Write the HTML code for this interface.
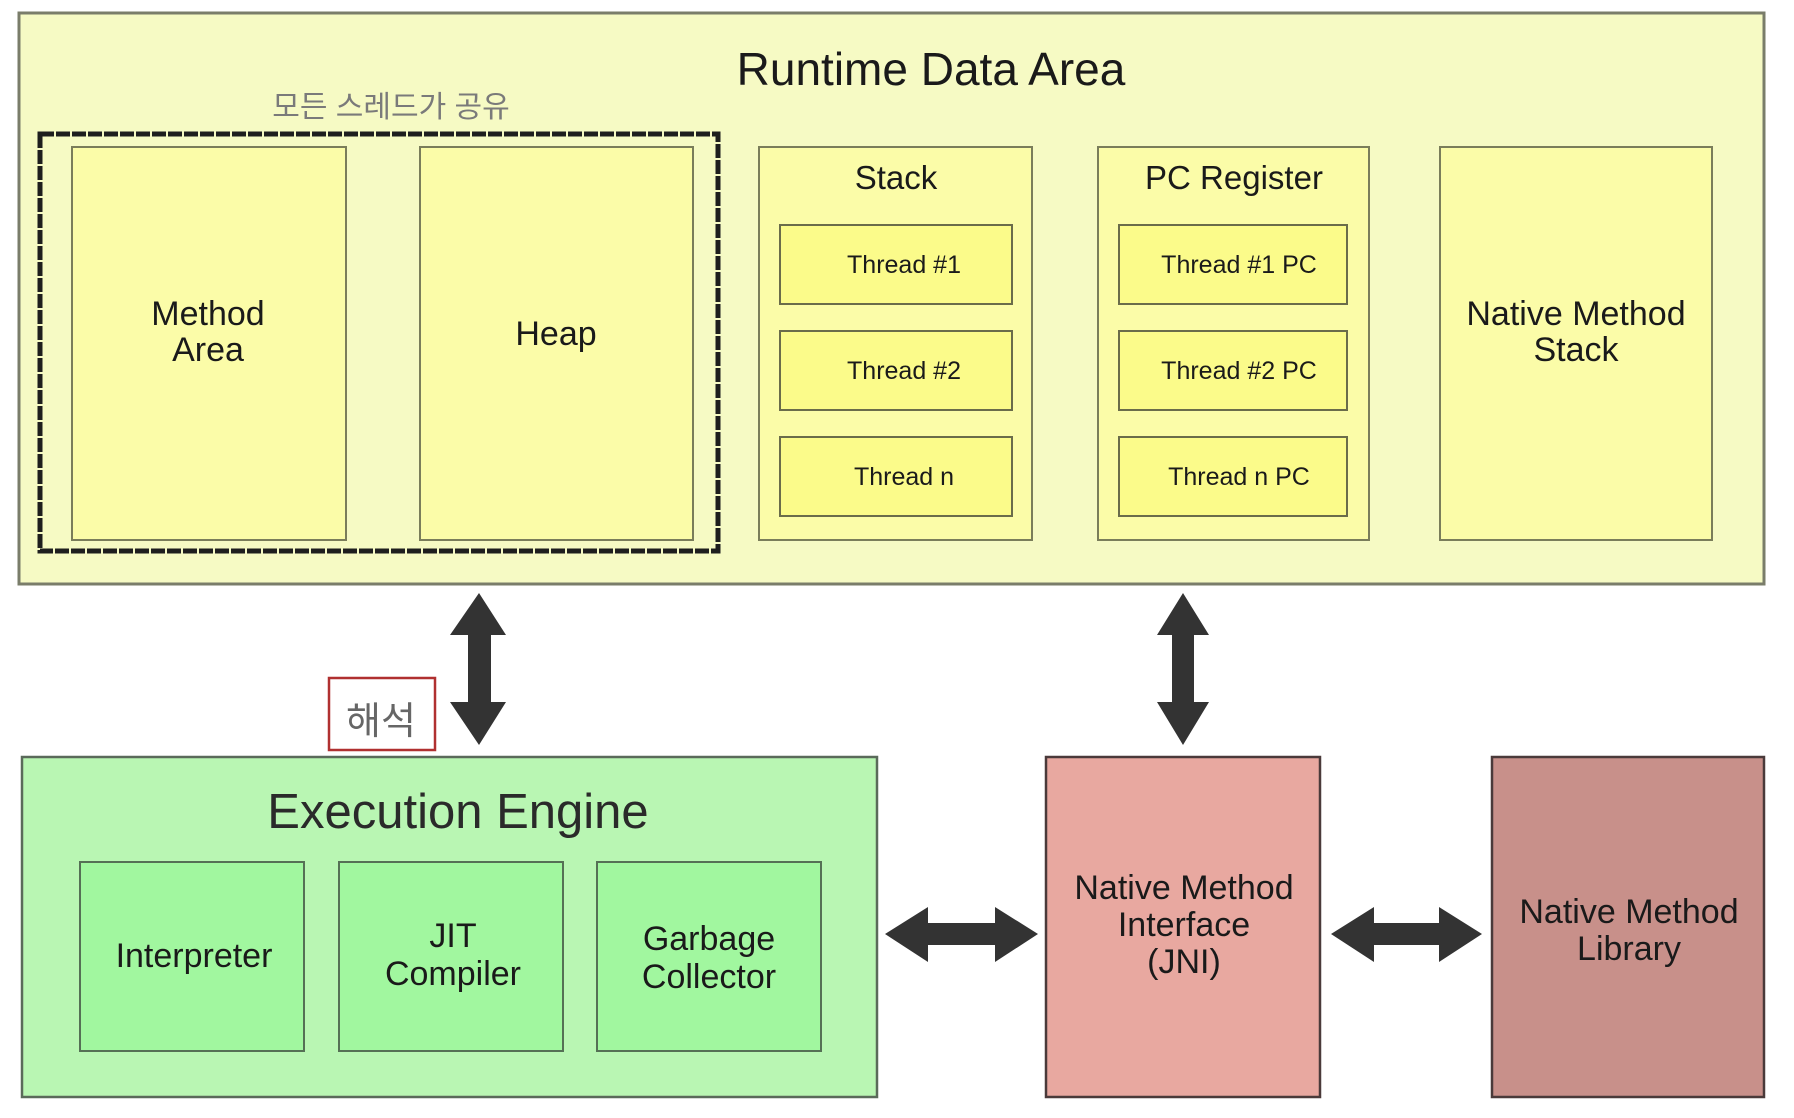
<!DOCTYPE html>
<html><head><meta charset="utf-8"><style>
html,body{margin:0;padding:0;background:#fff;}
svg{display:block;}
text{font-family:"Liberation Sans","Noto Sans CJK KR",sans-serif;text-anchor:middle;fill:#1a1a1a;}
</style></head><body>
<svg width="1794" height="1118" viewBox="0 0 1794 1118" xmlns="http://www.w3.org/2000/svg">
<rect x="0" y="0" width="1794" height="1118" fill="#fff"/>
<!-- Runtime Data Area -->
<rect x="19" y="13" width="1745" height="571" fill="#f6fac4" stroke="#7a7d6a" stroke-width="3"/>
<text x="931" y="85" font-size="46">Runtime Data Area</text>
<text x="391" y="117" font-size="30" style="fill:#7a7a7a">모든 스레드가 공유</text>
<rect x="40" y="134" width="678" height="417" fill="none" stroke="#1e1e1e" stroke-width="5" stroke-dasharray="14 2"/>
<rect x="72" y="147" width="274" height="393" fill="#fbfca8" stroke="#7a7d5a" stroke-width="2"/>
<text x="208" y="325" font-size="34">Method</text>
<text x="208" y="361" font-size="34">Area</text>
<rect x="420" y="147" width="273" height="393" fill="#fbfca8" stroke="#7a7d5a" stroke-width="2"/>
<text x="556" y="345" font-size="34">Heap</text>

<rect x="759" y="147" width="273" height="393" fill="#fbfca8" stroke="#7a7d5a" stroke-width="2"/>
<text x="896" y="189" font-size="33">Stack</text>
<rect x="780" y="225" width="232" height="79" fill="#fbfb8a" stroke="#6a6c4a" stroke-width="2"/>
<rect x="780" y="331" width="232" height="79" fill="#fbfb8a" stroke="#6a6c4a" stroke-width="2"/>
<rect x="780" y="437" width="232" height="79" fill="#fbfb8a" stroke="#6a6c4a" stroke-width="2"/>
<text x="904" y="273" font-size="25">Thread #1</text>
<text x="904" y="379" font-size="25">Thread #2</text>
<text x="904" y="485" font-size="25">Thread n</text>

<rect x="1098" y="147" width="271" height="393" fill="#fbfca8" stroke="#7a7d5a" stroke-width="2"/>
<text x="1234" y="189" font-size="33">PC Register</text>
<rect x="1119" y="225" width="228" height="79" fill="#fbfb8a" stroke="#6a6c4a" stroke-width="2"/>
<rect x="1119" y="331" width="228" height="79" fill="#fbfb8a" stroke="#6a6c4a" stroke-width="2"/>
<rect x="1119" y="437" width="228" height="79" fill="#fbfb8a" stroke="#6a6c4a" stroke-width="2"/>
<text x="1239" y="273" font-size="25">Thread #1 PC</text>
<text x="1239" y="379" font-size="25">Thread #2 PC</text>
<text x="1239" y="485" font-size="25">Thread n PC</text>

<rect x="1440" y="147" width="272" height="393" fill="#fbfca8" stroke="#7a7d5a" stroke-width="2"/>
<text x="1576" y="325" font-size="34">Native Method</text>
<text x="1576" y="361" font-size="34">Stack</text>

<!-- arrows -->
<g fill="#333">
<polygon points="479,593 506,635 491,635 491,702 506,702 479,745 450,702 468,702 468,635 450,635"/>
<polygon points="1183,593 1209,635 1194,635 1194,702 1209,702 1183,745 1157,702 1172,702 1172,635 1157,635"/>
<polygon points="885,934 928,907 928,923 995,923 995,907 1038,934 995,962 995,945 928,945 928,962"/>
<polygon points="1331,934 1374,907 1374,923 1439,923 1439,907 1482,934 1439,962 1439,945 1374,945 1374,962"/>
</g>

<rect x="329" y="678" width="106" height="72" fill="#fff" stroke="#b03030" stroke-width="2.5"/>
<text x="381" y="734" font-size="38" style="fill:#666">해석</text>

<!-- Execution engine -->
<rect x="22" y="757" width="855" height="340" fill="#b9f6b3" stroke="#5a6a5a" stroke-width="2.5"/>
<text x="458" y="828" font-size="49" style="fill:#2a2a2a">Execution Engine</text>
<rect x="80" y="862" width="224" height="189" fill="#a1f79f" stroke="#557055" stroke-width="2"/>
<rect x="339" y="862" width="224" height="189" fill="#a1f79f" stroke="#557055" stroke-width="2"/>
<rect x="597" y="862" width="224" height="189" fill="#a1f79f" stroke="#557055" stroke-width="2"/>
<text x="194" y="967" font-size="34">Interpreter</text>
<text x="453" y="947" font-size="34">JIT</text>
<text x="453" y="985" font-size="34">Compiler</text>
<text x="709" y="950" font-size="34">Garbage</text>
<text x="709" y="988" font-size="34">Collector</text>

<rect x="1046" y="757" width="274" height="340" fill="#e8a8a0" stroke="#4a3a3a" stroke-width="2.5"/>
<text x="1184" y="899" font-size="34">Native Method</text>
<text x="1184" y="936" font-size="34">Interface</text>
<text x="1184" y="973" font-size="34">(JNI)</text>

<rect x="1492" y="757" width="272" height="340" fill="#c8908a" stroke="#4a3a3a" stroke-width="2.5"/>
<text x="1629" y="923" font-size="34">Native Method</text>
<text x="1629" y="960" font-size="34">Library</text>
</svg>
</body></html>
